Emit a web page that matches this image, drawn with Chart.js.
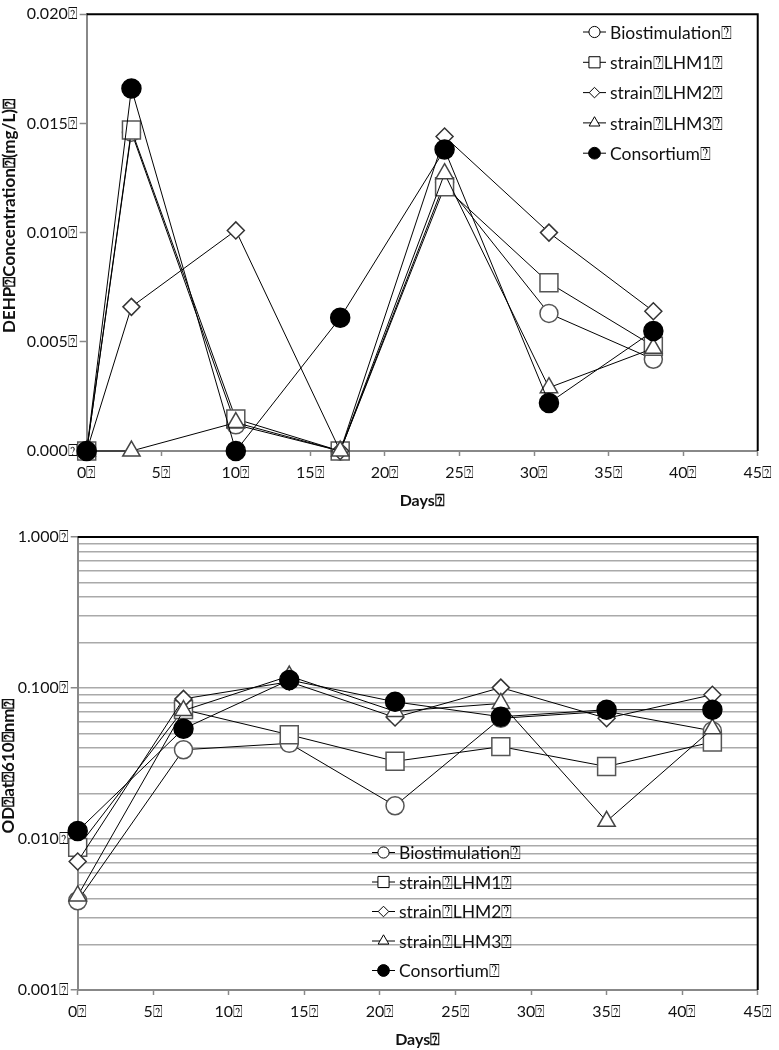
<!DOCTYPE html>
<html>
<head>
<meta charset="utf-8">
<script src="https://cdn.jsdelivr.net/npm/chart.js@4/dist/chart.umd.min.js"></script>
<style>
body { margin:0; background:#fff; }
#dehp_chart { position:absolute; left:0; top:0; }
#od_chart { position:absolute; left:0; top:520px; }
</style>
</head>
<body>
<canvas id="dehp_chart" width="779" height="520"></canvas>
<canvas id="od_chart" width="779" height="530"></canvas>
<script>
const BOX = '\u2370'; // the unreadable glyph shown after every label

// series names
const seriesNames = ['Biostimulation' + BOX, 'strain' + BOX + 'LHM1' + BOX, 'strain' + BOX + 'LHM2' + BOX, 'strain' + BOX + 'LHM3' + BOX, 'Consortium' + BOX];

// DEHP concentration (mg/L), top chart
const dehpDays = [0, 3, 10, 17, 24, 31, 38];
const dehpBio  = [0, 0.0146, 0.0012, 0, 0.0123, 0.0063, 0.0042];
const dehpLHM1 = [0, 0.0147, 0.00147, 0, 0.0121, 0.0077, 0.0048];
const dehpLHM2 = [0, 0.0066, 0.0101, 0, 0.0144, 0.0100, 0.0064];
const dehpLHM3 = [0, 0, 0.0013, 0, 0.0127, 0.0029, 0.0047];
const dehpCons = [0, 0.0166, 0, 0.0061, 0.0138, 0.0022, 0.0055];
const dehpYTicks = [0, 0.005, 0.010, 0.015, 0.020];

// OD at 610 nm, bottom chart
const odDays = [0, 7, 14, 21, 28, 35, 42];
const odBio  = [0.0039, 0.039, 0.043, 0.0166, 0.063, 0.070, 0.052];
const odLHM1 = [0.0088, 0.072, 0.049, 0.0327, 0.0409, 0.0302, 0.0439];
const odLHM2 = [0.0071, 0.0847, 0.110, 0.0638, 0.1006, 0.063, 0.0903];
const odLHM3 = [0.0042, 0.0709, 0.120, 0.070, 0.079, 0.0131, 0.0537];
const odCons = [0.0113, 0.0537, 0.113, 0.081, 0.0645, 0.0718, 0.0718];
const odYLabelTicks = [0.001, 0.01, 0.1, 1];
const odYGridTicks = [0.001, 0.002, 0.003, 0.004, 0.005, 0.006, 0.007, 0.008, 0.009,
                      0.01, 0.02, 0.03, 0.04, 0.05, 0.06, 0.07, 0.08, 0.09,
                      0.1, 0.2, 0.3, 0.4, 0.5, 0.6, 0.7, 0.8, 0.9, 1];

// x axis ticks (both charts)
const dayTicks = [0, 5, 10, 15, 20, 25, 30, 35, 40, 45];

// marker look per series
const markers = [
  {style:'circle',   radius:9,    fill:'#fff', edge:'#555'},
  {style:'rect',     radius:12.7, fill:'#fff', edge:'#555'},
  {style:'rectRot',  radius:8.5,  fill:'#fff', edge:'#333'},
  {style:'triangle', radius:10,   fill:'#fff', edge:'#444'},
  {style:'circle',   radius:9.5,  fill:'#000', edge:'#000'}
];

Chart.defaults.font.family = 'Lato';
Chart.defaults.color = '#111';

function makeDatasets(days, seriesList) {
  return seriesList.map((vals, i) => ({
    label: seriesNames[i],
    data: vals.map((v, k) => ({x: days[k], y: v})),
    borderColor: '#000',
    borderWidth: 1,
    pointStyle: markers[i].style,
    pointRadius: markers[i].radius,
    pointBackgroundColor: markers[i].fill,
    pointBorderColor: markers[i].edge,
    pointBorderWidth: 1.5,
    tension: 0,
    clip: false,
    order: seriesList.length - i  // consortium drawn last (on top)
  }));
}

// black top/right frame, rotated y title, legend inside plot
const frameLegend = {
  id: 'frameLegend',
  afterDatasetsDraw(chart, args, opts) {
    const ctx = chart.ctx, a = chart.chartArea;
    ctx.save();
    ctx.strokeStyle = '#000';
    ctx.lineWidth = 2;
    ctx.beginPath();
    ctx.moveTo(a.left, a.top);
    ctx.lineTo(a.right, a.top);
    ctx.lineTo(a.right, a.bottom);
    ctx.stroke();

    // y axis title
    ctx.save();
    ctx.translate(opts.titleX, opts.titleY);
    ctx.rotate(-Math.PI / 2);
    ctx.fillStyle = '#111';
    ctx.font = 'bold 17px Lato';
    ctx.textAlign = 'center';
    ctx.textBaseline = 'middle';
    ctx.fillText(opts.title, 0, 0);
    ctx.restore();

    chart.data.datasets.forEach((ds, i) => {
      const y = opts.y + i * opts.gap;
      ctx.strokeStyle = '#000';
      ctx.lineWidth = 1;
      ctx.beginPath();
      ctx.moveTo(opts.x, y);
      ctx.lineTo(opts.x + 23, y);
      ctx.stroke();
      ctx.fillStyle = ds.pointBackgroundColor;
      ctx.strokeStyle = '#000';
      Chart.helpers.drawPoint(ctx, {pointStyle: ds.pointStyle, radius: ds.pointRadius * 0.62, borderWidth: 1.3, rotation: 0}, opts.x + 11.5, y);
      ctx.fillStyle = '#111';
      ctx.font = '17.5px Lato';
      ctx.textBaseline = 'middle';
      ctx.textAlign = 'left';
      ctx.fillText(ds.label, opts.x + 27, y + 1);
    });
    ctx.restore();
  }
};

function xAxis(height, titlePad) {
  return {
    type: 'linear',
    min: 0,
    max: 45,
    afterBuildTicks: s => { s.ticks = dayTicks.map(v => ({value: v})); },
    afterFit: s => { s.height = height; },
    grid: {drawOnChartArea: false, drawTicks: true, tickLength: 5, tickColor: '#888', tickWidth: 1.5},
    border: {color: '#888', width: 2},
    ticks: {callback: v => v + BOX, font: {size: 16}, padding: 7, maxRotation: 0},
    title: {display: true, text: 'Days' + BOX, font: {size: 16, weight: 'bold'}, color: '#111', padding: {top: 0, bottom: titlePad}}
  };
}

// DEHP (linear)
const dehpChart = new Chart(document.getElementById('dehp_chart').getContext('2d'), {
  type: 'line',
  plugins: [frameLegend],
  data: {datasets: makeDatasets(dehpDays, [dehpBio, dehpLHM1, dehpLHM2, dehpLHM3, dehpCons])},
  options: {
    responsive: false,
    animation: false,
    layout: {padding: {top: 5, right: 19, left: 0, bottom: 0}},
    scales: {
      x: xAxis(69, 10),
      y: {
        min: 0,
        max: 0.02,
        afterBuildTicks: s => { s.ticks = dehpYTicks.map(v => ({value: v})); },
        afterFit: s => { s.width = 86.7; },
        grid: {drawOnChartArea: false, drawTicks: true, tickLength: 7, tickColor: '#888', tickWidth: 1.5},
        border: {color: '#888', width: 2},
        ticks: {callback: v => v.toFixed(3) + BOX, font: {size: 16}, padding: 2}
      }
    },
    plugins: {
      legend: {display: false},
      tooltip: {enabled: false},
      frameLegend: {x: 583, y: 32, gap: 30.3, title: 'DEHP' + BOX + 'Concentration' + BOX + '(mg/L)' + BOX, titleX: 10, titleY: 216}
    }
  }
});

// OD 610 nm (log)
const odChart = new Chart(document.getElementById('od_chart').getContext('2d'), {
  type: 'line',
  plugins: [frameLegend],
  data: {datasets: makeDatasets(odDays, [odBio, odLHM1, odLHM2, odLHM3, odCons])},
  options: {
    responsive: false,
    animation: false,
    layout: {padding: {top: 17, right: 17.3, left: 0, bottom: 0}},
    scales: {
      x: xAxis(60, 1),
      y: {
        type: 'logarithmic',
        min: 0.001,
        max: 1,
        afterBuildTicks: s => { s.ticks = odYGridTicks.map(v => ({value: v})); },
        afterFit: s => { s.width = 77.7; },
        grid: {
          drawOnChartArea: true,
          drawTicks: true,
          tickLength: 7,
          color: '#aaa',
          lineWidth: 1.5,
          tickColor: c => odYLabelTicks.includes(c.tick.value) ? '#888' : 'rgba(0,0,0,0)'
        },
        border: {color: '#888', width: 2},
        ticks: {
          autoSkip: false,
          callback: v => odYLabelTicks.includes(v) ? v.toFixed(3) + BOX : '',
          font: {size: 16},
          padding: 2
        }
      }
    },
    plugins: {
      legend: {display: false},
      tooltip: {enabled: false},
      frameLegend: {x: 372, y: 332.5, gap: 29.5, title: 'OD' + BOX + 'at' + BOX + '610' + BOX + 'nm' + BOX, titleX: 9, titleY: 246}
    }
  }
});
</script>
</body>
</html>
